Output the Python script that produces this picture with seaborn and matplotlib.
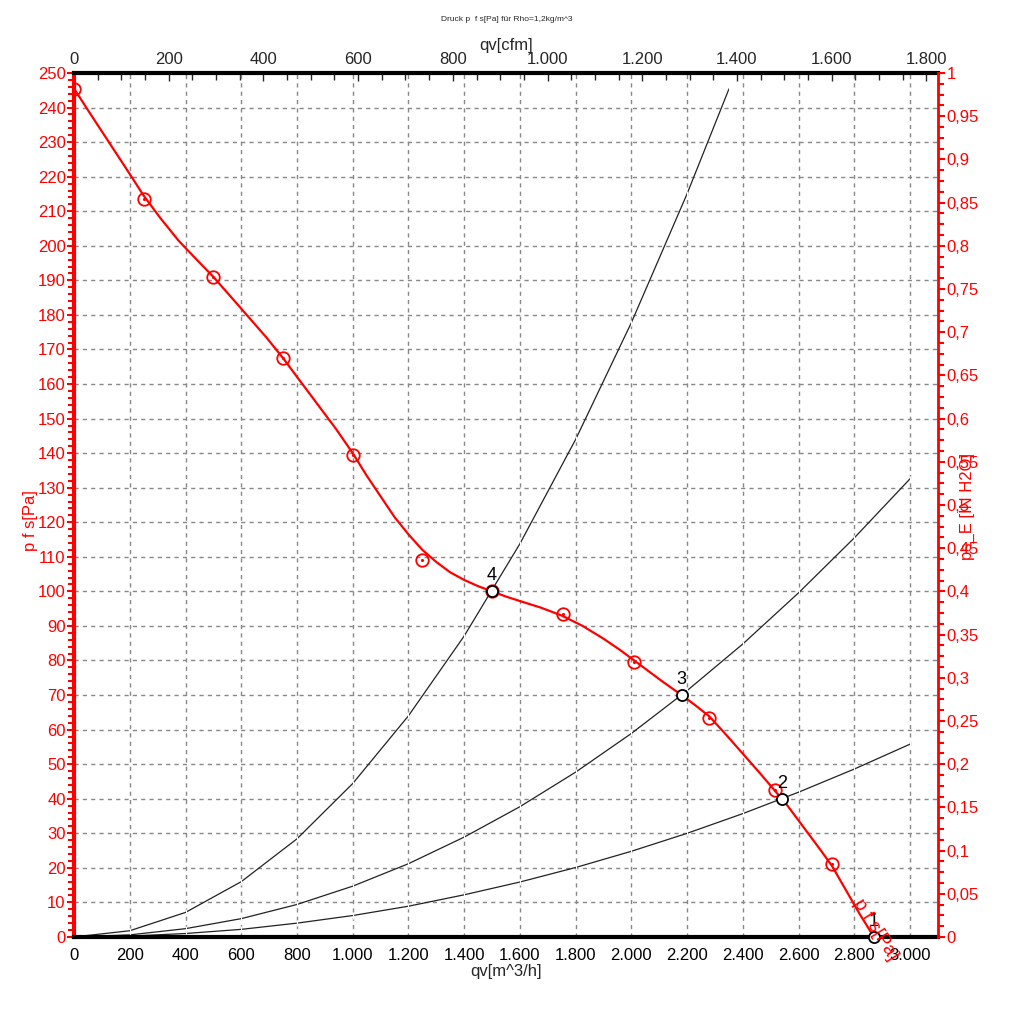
import pandas as pd
import matplotlib.pyplot as plt
import seaborn as sns
from matplotlib.ticker import MultipleLocator, FixedLocator, FuncFormatter

# ---- Kennlinie p f s[Pa] ----
qv_line = [0, 60, 125, 190, 250, 310, 375, 440, 500, 560, 625, 690, 750, 810, 875, 940,
           1000, 1050, 1100, 1150, 1200, 1250, 1300, 1350, 1400, 1450, 1500, 1550, 1600,
           1675, 1750, 1825, 1900, 1960, 2010, 2060, 2110, 2180, 2230, 2280, 2340, 2400,
           2460, 2515, 2560, 2620, 2680, 2720, 2770, 2820, 2870]
pfs_line = [245.5, 238, 230, 222, 214.5, 208, 201.5, 196, 191, 185.5, 179.5, 173.5, 167.5,
            161, 154, 147, 140, 133.5, 127.5, 121.5, 116.5, 112, 108.5, 105.5, 103.3, 101.5,
            100, 98.5, 97.2, 95.3, 93, 90, 86.3, 83, 80, 77, 74, 70, 67, 63.8, 58.5, 53,
            47.5, 42.3, 38, 31.5, 25, 20.5, 13.5, 6.5, 0]

qv_mess = [0, 250, 500, 750, 1000, 1250, 1500, 1755, 2010, 2280, 2515, 2720]
pfs_mess = [245.5, 213.5, 191, 167.5, 139.5, 109, 100, 93.5, 79.5, 63.5, 42.5, 21]

# ---- Anlagenkennlinien ----
qv_a4 = [0, 200, 400, 600, 800, 1000, 1200, 1400, 1600, 1800, 2000, 2200, 2350]
p_a4 = [0, 1.8, 7.1, 16, 28.4, 44.4, 64, 87.1, 113.8, 144, 177.8, 215.1, 245.4]
qv_a3 = [0, 200, 400, 600, 800, 1000, 1200, 1400, 1600, 1800, 2000, 2200, 2400, 2600, 2800, 3000]
p_a3 = [0, 0.6, 2.4, 5.3, 9.4, 14.7, 21.2, 28.9, 37.7, 47.7, 58.9, 71.3, 84.8, 99.6, 115.5, 132.6]
qv_a2 = [0, 200, 400, 600, 800, 1000, 1200, 1400, 1600, 1800, 2000, 2200, 2400, 2600, 2800, 3000]
p_a2 = [0, 0.25, 1.0, 2.2, 4.0, 6.2, 8.9, 12.2, 15.9, 20.1, 24.8, 30.0, 35.7, 41.9, 48.6, 55.8]

# ---- Betriebspunkte ----
bp_labels = ["1", "2", "3", "4"]
bp_qv = [2870, 2540, 2180, 1500]
bp_p = [0, 40, 70, 100]

cfm_ticks = [0, 200, 400, 600, 800, 1000, 1200, 1400, 1600, 1800]
CFM = 1.699

sns.set_style("white")
plt.rcParams["font.family"] = ["Liberation Sans", "DejaVu Sans"]

fig = plt.figure(figsize=(10.1, 10.24), dpi=100)
ax = fig.add_axes([0.0733, 0.085, 0.8554, 0.8437])

# Gitter
ax.set_axisbelow(True)
ax.grid(True, color="#888888", linestyle=(0, (3, 3)), linewidth=1)

for q, p in [(qv_a4, p_a4), (qv_a3, p_a3), (qv_a2, p_a2)]:
    sns.lineplot(x=q, y=p, ax=ax, color="#222222", linewidth=0.9,
                 marker="|", markersize=4, markeredgewidth=0.8)

sns.lineplot(x=qv_line, y=pfs_line, ax=ax, color="#ff0000", linewidth=1.6)
ax.plot(qv_mess, pfs_mess, linestyle="none", marker="o", markersize=9,
        markerfacecolor="none", markeredgecolor="#ff0000", markeredgewidth=1.3)
ax.plot(qv_mess, pfs_mess, linestyle="none", marker=".", markersize=2.5, color="#ff0000")

ax.plot(bp_qv, bp_p, linestyle="none", marker="o", markersize=8,
        markerfacecolor="white", markeredgecolor="black", markeredgewidth=1.3,
        clip_on=False, zorder=5)
for lab, q, p in zip(bp_labels, bp_qv, bp_p):
    ax.annotate(lab, (q, p), xytext=(0, 5), textcoords="offset points",
                ha="center", va="bottom", fontsize=13, color="black", zorder=6)

ax.text(2876, 2, "p f s[Pa]", color="#ff0000", fontsize=13.5, rotation=-58,
        ha="center", va="center", clip_on=False, zorder=7)

ax.set_xlim(0, 3100)
ax.set_ylim(0, 250)

ax.xaxis.set_major_locator(MultipleLocator(200))
ax.xaxis.set_minor_locator(MultipleLocator(50))
ax.yaxis.set_major_locator(MultipleLocator(10))
ax.yaxis.set_minor_locator(MultipleLocator(2))
ax.xaxis.set_major_formatter(FuncFormatter(lambda v, _: f"{int(round(v)):,}".replace(",", ".")))
ax.tick_params(axis="x", which="major", direction="out", length=5, width=1,
               labelsize=12, colors="black", pad=3)
ax.tick_params(axis="x", which="minor", direction="out", length=4, width=1, colors="black")
ax.tick_params(axis="y", which="major", direction="out", length=5, width=1.5,
               labelsize=12, colors="#ff0000", pad=1)
ax.tick_params(axis="y", which="minor", direction="out", length=4, width=1.5, colors="#ff0000")

ax.spines["left"].set_color("#ff0000")
ax.spines["left"].set_linewidth(3)
ax.spines["bottom"].set_color("black")
ax.spines["bottom"].set_linewidth(3)
ax.spines["top"].set_color("black")
ax.spines["top"].set_linewidth(3)
ax.spines["right"].set_visible(False)

ax.set_xlabel("qv[m^3/h]", fontsize=12, labelpad=1)
ax.set_ylabel("")

# obere Achse cfm
top = ax.secondary_xaxis("top", functions=(lambda x: x / CFM, lambda x: x * CFM))
top.xaxis.set_major_locator(FixedLocator(cfm_ticks))
top.xaxis.set_minor_locator(FixedLocator([t + d for t in cfm_ticks[:-1] for d in (50, 100, 150)]))
top.xaxis.set_major_formatter(FuncFormatter(lambda v, _: f"{int(round(v)):,}".replace(",", ".")))
top.tick_params(axis="x", which="major", direction="in", length=6, width=1, labelsize=12, pad=4)
top.tick_params(axis="x", which="minor", direction="in", length=5, width=1)
top.spines["top"].set_visible(False)
top.set_xlabel("qv[cfm]", fontsize=12, labelpad=2)

# rechte Achse
ax2 = ax.twinx()
ax2.set_ylim(0, 1)
ax2.yaxis.set_major_locator(MultipleLocator(0.05))
ax2.yaxis.set_minor_locator(MultipleLocator(0.0125))
ax2.yaxis.set_major_formatter(FuncFormatter(lambda v, _: f"{round(v, 2):g}".replace(".", ",")))
ax2.tick_params(axis="y", which="major", direction="out", length=5, width=1.5,
                labelsize=12, colors="#ff0000", pad=1)
ax2.tick_params(axis="y", which="minor", direction="out", length=4, width=1.5, colors="#ff0000")
for s in ["left", "top", "bottom"]:
    ax2.spines[s].set_visible(False)
ax2.spines["right"].set_color("#ff0000")
ax2.spines["right"].set_linewidth(2)

fig.text(0.030, 0.492, "p f s[Pa]", color="#ff0000", fontsize=12, rotation=90,
         ha="center", va="center")
fig.text(0.958, 0.505, "ps_E [IN H2O]", color="#ff0000", fontsize=12, rotation=90,
         ha="center", va="center")
fig.text(0.502, 0.981, "Druck p  f s[Pa] für Rho=1,2kg/m^3", fontsize=6,
         ha="center", va="center")

fig.savefig("out.png", dpi=100)
